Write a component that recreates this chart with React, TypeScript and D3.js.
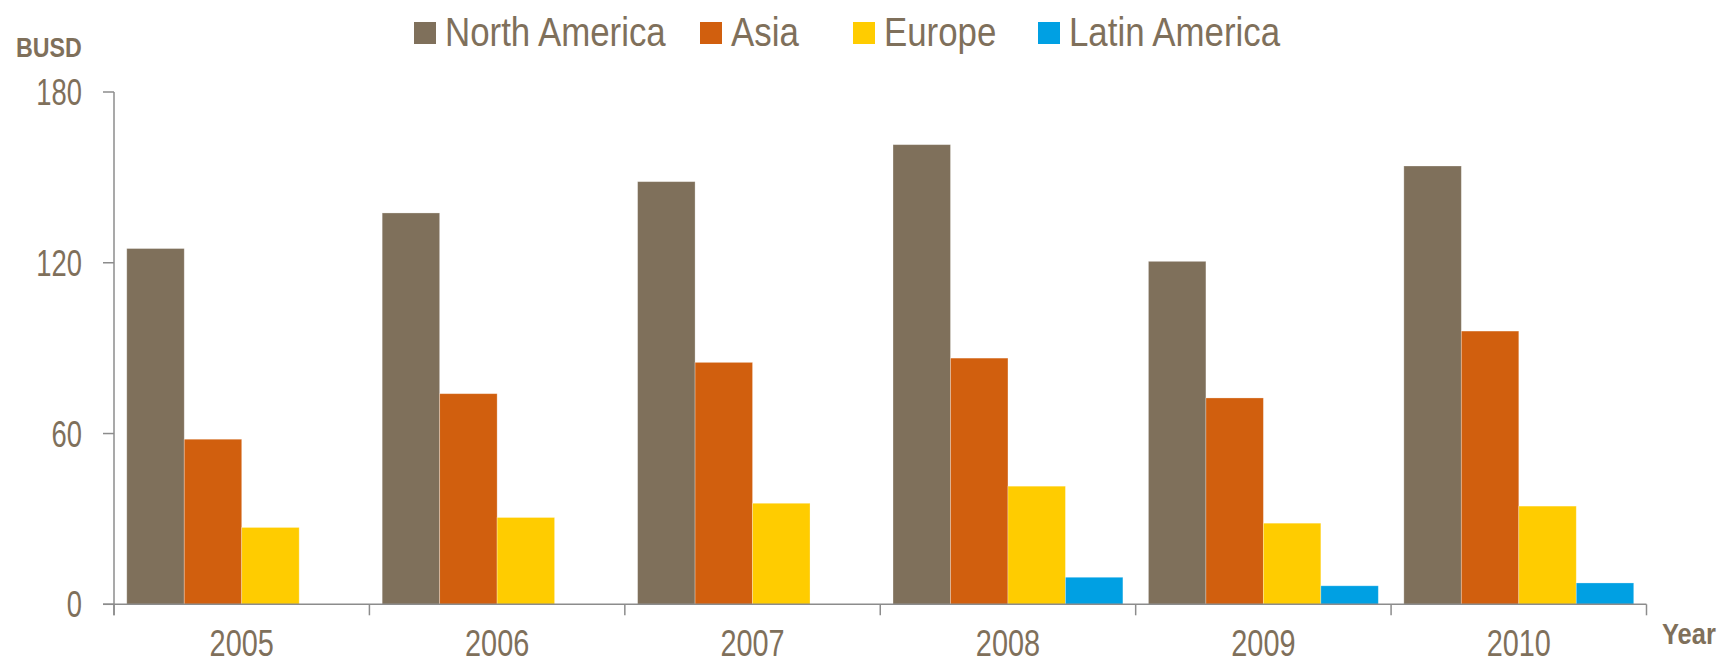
import React, { useRef, useEffect } from 'react';
import * as d3 from 'd3';

// data
const years = ['2005', '2006', '2007', '2008', '2009', '2010'];
const seriesNames = ['North America', 'Asia', 'Europe', 'Latin America'];
const northAmerica = [125, 137.5, 148.5, 161.5, 120.5, 154];
const asia = [58, 74, 85, 86.5, 72.5, 96];
const europe = [27, 30.5, 35.5, 41.5, 28.5, 34.5];
const latinAmerica = [0, 0, 0, 9.5, 6.5, 7.5];
const yTicks = [0, 60, 120, 180];

const colors = ['#7F705B', '#D15F0E', '#FFCC00', '#00A0E3'];
const textColor = '#7F705B';
const axisColor = '#8C8C8C';
// no narrow font installed, so the regular one is squeezed horizontally
const font = '"Liberation Sans", Arial, sans-serif';

const width = 1721, height = 664;
const margin = { left: 114, right: 74.5, top: 92, bottom: 59.7 };
const legendX = [414, 700, 853, 1038];

const App = () => {
    const ref = useRef<SVGSVGElement>(null);

    useEffect(() => {
        const svg = d3.select(ref.current);
        svg.selectAll('*').remove();

        const label = (parent: any, x: number, y: number, txt: string, size: number, sx: number,
            anchor = 'start', bold = false) =>
            parent.append('text')
                .attr('transform', `translate(${x},${y}) scale(${sx},1)`)
                .attr('text-anchor', anchor).attr('fill', textColor)
                .style('font-family', font).style('font-size', `${size}px`)
                .style('font-weight', bold ? 'bold' : 'normal')
                .text(txt);

        const values = [northAmerica, asia, europe, latinAmerica];
        const data = years.map((y, i) => ({ year: y, vals: values.map(v => v[i]) }));

        const x0 = d3.scaleBand().domain(years).range([margin.left, width - margin.right])
            .paddingInner(0.1).paddingOuter(0.05);
        const x1 = d3.scaleBand().domain(seriesNames).range([0, x0.bandwidth()]);
        const y = d3.scaleLinear().domain([0, 180]).range([height - margin.bottom, margin.top]);
        const base = y(0);

        // bars
        const groups = svg.append('g').selectAll('g').data(data).enter().append('g')
            .attr('transform', d => `translate(${x0(d.year)},0)`);
        groups.selectAll('rect').data(d => d.vals.map((v, i) => ({ v, i })).filter(e => e.v > 0))
            .enter().append('rect')
            .attr('x', e => x1(seriesNames[e.i])!)
            .attr('y', e => y(e.v))
            .attr('width', x1.bandwidth())
            .attr('height', e => base - y(e.v))
            .attr('fill', e => colors[e.i])
            .attr('stroke', 'rgba(255,255,255,0.35)')
            .attr('stroke-width', 0.8);

        // y axis
        const ax = svg.append('g').attr('stroke', axisColor).attr('stroke-width', 1.5);
        ax.append('line').attr('x1', margin.left).attr('x2', margin.left)
            .attr('y1', y(180)).attr('y2', base + 11);
        yTicks.forEach(t => {
            ax.append('line').attr('x1', margin.left - 11).attr('x2', margin.left)
                .attr('y1', y(t)).attr('y2', y(t));
        });
        const yl = svg.append('g');
        yTicks.forEach(t => label(yl, 82, y(t) + 13, String(t), 37, 0.74, 'end'));

        // x axis, ticks between categories
        const step = x0.step();
        const xStart = margin.left, xEnd = width - margin.right;
        ax.append('line').attr('x1', xStart - 11).attr('x2', xEnd).attr('y1', base).attr('y2', base);
        d3.range(years.length + 1).forEach(i => {
            const xx = Math.min(xStart + i * step, xEnd);
            ax.append('line').attr('x1', xx).attr('x2', xx).attr('y1', base).attr('y2', base + 11);
        });
        const xl = svg.append('g');
        years.forEach(d => label(xl, x0(d)! + x0.bandwidth() / 2, 656, d, 37, 0.78, 'middle'));

        // axis titles
        label(svg, 16, 57, 'BUSD', 28, 0.83, 'start', true);
        label(svg, 1662, 644, 'Year', 30, 0.85, 'start', true);

        // legend
        const leg = svg.append('g');
        seriesNames.forEach((name, i) => {
            leg.append('rect').attr('x', legendX[i]).attr('y', 22).attr('width', 22).attr('height', 22)
                .attr('fill', colors[i]);
            label(leg, legendX[i] + 31, 46, name, 41, 0.85);
        });
    }, []);

    return (
        <svg ref={ref} width={width} height={height}
            style={{ position: 'absolute', left: 0, top: 0, background: '#fff' }} />
    );
};

export default App;
